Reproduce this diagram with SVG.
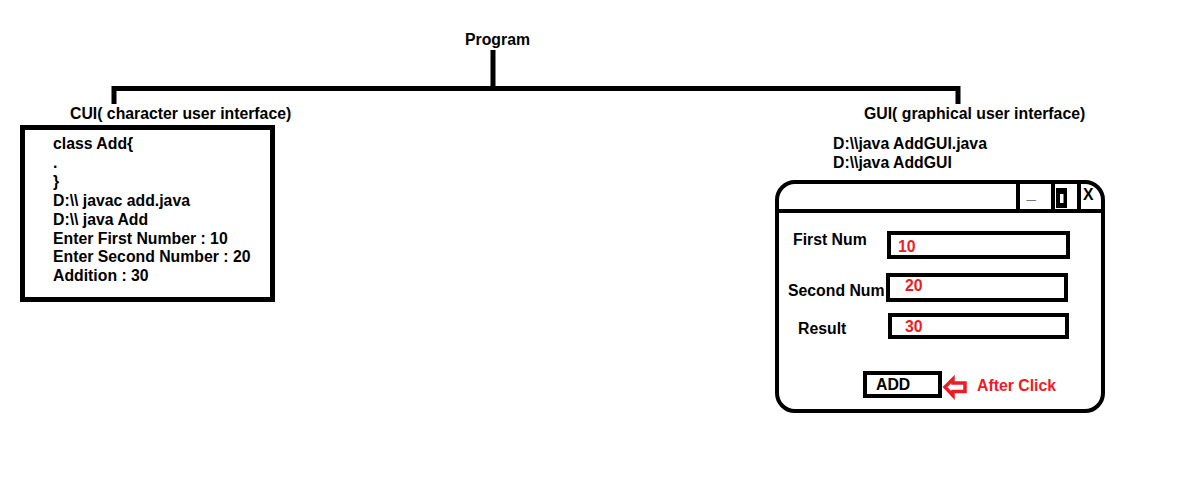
<svg xmlns="http://www.w3.org/2000/svg" width="1196" height="503" viewBox="0 0 1196 503">
<style>
text{font-family:"Liberation Sans",Arial,sans-serif;font-weight:bold;font-size:15.8px;fill:#000}
.red{fill:#ED1C24}
.bx{fill:none;stroke:#000;stroke-width:4}
.ln{fill:none;stroke:#000;stroke-width:5}
</style>
<rect width="1196" height="503" fill="#fff"/>
<g id="program"><text x="465" y="45">Program</text></g>
<g id="connectors">
<path class="ln" d="M493,50 V89"/>
<path class="ln" d="M114,104 V88.5 H958 V104"/>
</g>
<g id="cui">
<text x="70" y="119">CUI( character user interface)</text>
<rect x="22.5" y="127.5" width="250" height="172" fill="none" stroke="#000" stroke-width="5"/>
<text x="53" y="149">class Add{</text>
<text x="53" y="168">.</text>
<text x="53" y="187">}</text>
<text x="53" y="206">D:\\ javac add.java</text>
<text x="53" y="224.5">D:\\ java Add</text>
<text x="53" y="243.5">Enter First Number : 10</text>
<text x="53" y="262">Enter Second Number : 20</text>
<text x="53" y="281">Addition : 30</text>
</g>
<g id="gui">
<text x="864" y="119">GUI( graphical user interface)</text>
<text x="833" y="149">D:\\java AddGUI.java</text>
<text x="833" y="168">D:\\java AddGUI</text>
<rect class="bx" x="777" y="182" width="326" height="229" rx="18"/>
<path class="bx" d="M777,211 H1103 M1018,182 V211 M1053,180 V211 M1079,182 V211"/>
<text x="1026.5" y="199" style="font-size:17px">_</text>
<rect x="1056" y="188" width="11" height="20" fill="#000"/>
<rect x="1060" y="194" width="3.5" height="9" fill="#fff"/>
<text x="1083" y="200">X</text>
<text x="793" y="245">First Num</text>
<rect class="bx" x="889" y="233" width="179" height="24"/>
<text class="red" x="898" y="252">10</text>
<text x="788" y="296">Second Num</text>
<rect class="bx" x="888" y="275" width="178" height="25"/>
<text class="red" x="905" y="291">20</text>
<text x="798" y="334">Result</text>
<rect class="bx" x="890" y="315" width="177" height="22"/>
<text class="red" x="905" y="332">30</text>
<rect class="bx" x="865" y="373" width="75" height="23"/>
<text x="876" y="390">ADD</text>
<polygon points="945,387 953,379 953,383 965,383 965,391.5 953,391.5 953,395.5" fill="#fff" stroke="#ED1C24" stroke-width="3.5" stroke-linejoin="miter"/>
<text class="red" x="977" y="391">After Click</text>
</g>
</svg>
